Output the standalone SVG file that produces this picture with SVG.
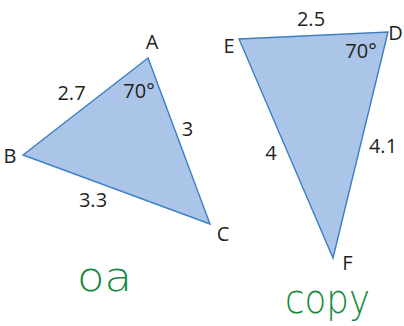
<svg xmlns="http://www.w3.org/2000/svg" width="404" height="326" viewBox="0 0 404 326">
<style>
.tri{fill:#abc5e8;stroke:#3b7fc4;stroke-width:1.4;stroke-linejoin:miter}
.lbl{font-family:"Open Sans","Liberation Sans",sans-serif;font-size:20px;fill:#231f20;text-anchor:middle}
.hand{font-family:"DejaVu Sans",sans-serif;font-weight:300;fill:#168a3c}
</style>
<rect width="404" height="326" fill="#ffffff"/>
<g id="triangle-abc">
<polygon class="tri" points="148,58 23,155 210,224"/>
<text class="lbl" x="152" y="49">A</text>
<text class="lbl" x="10" y="163">B</text>
<text class="lbl" x="223" y="241">C</text>
<text class="lbl" x="71.5" y="100">2.7</text>
<text class="lbl" x="139" y="98">70°</text>
<text class="lbl" x="187.5" y="136">3</text>
<text class="lbl" x="93" y="207">3.3</text>
</g>
<g id="triangle-edf">
<polygon class="tri" points="239,39 388,32 333,258"/>
<text class="lbl" x="229" y="53">E</text>
<text class="lbl" x="395.5" y="40">D</text>
<text class="lbl" x="347.5" y="270">F</text>
<text class="lbl" x="311" y="26">2.5</text>
<text class="lbl" x="361" y="58">70°</text>
<text class="lbl" x="271" y="160">4</text>
<text class="lbl" x="383" y="153">4.1</text>
</g>
<g id="notes">
<text class="hand" x="77" y="291" font-size="40" textLength="55" lengthAdjust="spacingAndGlyphs">oa</text>
<text class="hand" x="285" y="313" font-size="41" textLength="85" lengthAdjust="spacingAndGlyphs">copy</text>
</g>
</svg>
